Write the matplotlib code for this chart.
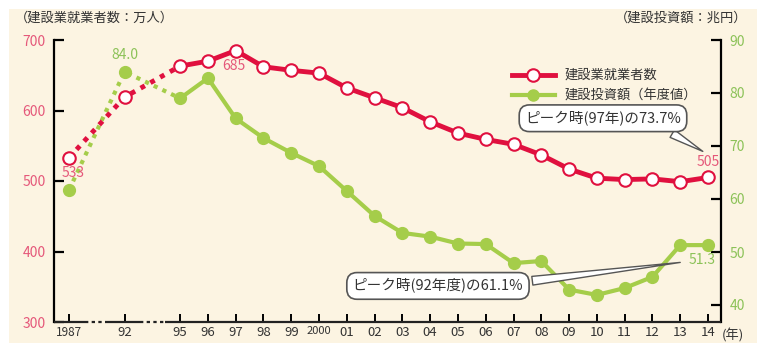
import matplotlib
matplotlib.use("Agg")
import matplotlib.pyplot as plt
from matplotlib.patches import Rectangle

plt.rcParams["font.family"] = ["Noto Sans CJK JP", "DejaVu Sans"]

years = ["1987", "92", "95", "96", "97", "98", "99", "2000", "01", "02", "03", "04",
         "05", "06", "07", "08", "09", "10", "11", "12", "13", "14"]
# 1987 and 92 sit two slots apart, as do 92 and 95 (compressed gap)
xpos = [0, 2] + list(range(4, 24))

workers = [533, 619, 663, 670, 685, 662, 657, 653, 632, 618, 604, 584,
           568, 559, 552, 537, 517, 504, 502, 503, 499, 505]
investment = [61.7, 84.0, 79.0, 82.8, 75.2, 71.5, 68.7, 66.2, 61.5, 56.8, 53.6, 52.9,
              51.6, 51.5, 47.9, 48.3, 42.9, 41.9, 43.2, 45.3, 51.3, 51.3]

RED = "#e0103f"
RED_TXT = "#e5587a"
GREEN = "#a5cd4a"
GREEN_TXT = "#8cc258"
BG = "#fcf4e2"
DARK = "#222222"

fig = plt.figure(figsize=(7.57, 3.43), dpi=100, facecolor="white")
fig.patches.append(Rectangle((9 / 757, 0), 1, 334 / 343, transform=fig.transFigure,
                             facecolor=BG, edgecolor="none", zorder=-10))

ax = fig.add_axes([54 / 757, 21 / 343, 667 / 757, 282 / 343])
ax2 = ax.twinx()
ax.set_zorder(ax2.get_zorder() + 1)
ax.patch.set_visible(False)
ax2.patch.set_visible(False)

x0 = -15 / 27.78
x1 = 23 + 13 / 27.78
ax.set_xlim(x0, x1)
ax.set_ylim(300, 700)
ax2.set_ylim(90 - 282 / 5.3, 90)

# green: construction investment (right axis)
ax2.plot(xpos[:3], investment[:3], color=GREEN, lw=3, ls=(0, (1.0, 1.3)),
         solid_capstyle="butt", zorder=2)
ax2.plot(xpos[2:], investment[2:], color=GREEN, lw=3, zorder=2)
ax2.plot(xpos, investment, ls="none", marker="o", ms=8.5, mfc=GREEN, mec=GREEN, zorder=3)

# red: construction workers (left axis)
ax.plot(xpos[:3], workers[:3], color=RED, lw=3.5, ls=(0, (1.0, 1.3)), zorder=2)
ax.plot(xpos[2:], workers[2:], color=RED, lw=3.5, zorder=2)
ax.plot(xpos, workers, ls="none", marker="o", ms=9, mfc="white", mec=RED, mew=1.5, zorder=3)

# spines and ticks
for a in (ax, ax2):
    a.spines["top"].set_visible(False)
    a.spines["bottom"].set_visible(False)
ax.spines["right"].set_visible(False)
ax2.spines["left"].set_visible(False)
ax.spines["left"].set_linewidth(1.6)
ax2.spines["right"].set_linewidth(1.6)

ax.set_yticks(range(300, 701, 100))
ax.tick_params(axis="y", direction="in", length=7, width=1.6,
               labelcolor=RED_TXT, labelsize=10, pad=6)
ax2.set_yticks(range(40, 91, 10))
ax2.tick_params(axis="y", direction="in", length=7, width=1.6,
                labelcolor=GREEN_TXT, labelsize=10, pad=6)

ax.set_xticks(xpos)
ax.set_xticklabels(years)
ax.tick_params(axis="x", direction="in", length=6, width=1.4, labelcolor="#333333",
               labelsize=9.5, pad=3)
for lbl in ax.get_xticklabels():
    if lbl.get_text() == "2000":
        lbl.set_fontsize(8)
    elif lbl.get_text() == "1987":
        lbl.set_fontsize(8.5)

# bottom axis line, broken by dotted stretches in the compressed gaps
tr = ax.get_xaxis_transform()
px = lambda p: (p - 69) / 27.78
for a, b, style in [(x0, px(85), "-"), (px(85), px(107), (0, (1.5, 1.5))),
                    (px(107), px(140), "-"), (px(140), px(165), (0, (1.5, 1.5))),
                    (px(165), x1, "-")]:
    ax.plot([a, b], [0, 0], transform=tr, color=DARK, lw=1.6, ls=style,
            clip_on=False, solid_capstyle="butt", zorder=5)

# value labels
ax.text(xpos[0] + 0.15, workers[0] - 12, "533", color=RED_TXT, fontsize=10,
        ha="center", va="top")
ax.text(xpos[4] - 0.05, workers[4] - 12, "685", color=RED_TXT, fontsize=10,
        ha="center", va="top")
ax.text(xpos[-1], workers[-1] + 12, "505", color=RED_TXT, fontsize=10,
        ha="center", va="bottom")
ax2.text(xpos[1], investment[1] + 1.8, "84.0", color=GREEN_TXT, fontsize=10,
         ha="center", va="bottom")
ax2.text(xpos[-1] - 0.2, investment[-1] - 1.5, "51.3", color=GREEN_TXT, fontsize=10,
         ha="center", va="top")

# callouts
box = dict(boxstyle="round,pad=0.4,rounding_size=0.7", fc="white", ec="#555555", lw=1.2)
ax.annotate("ピーク時(97年)の73.7%", xy=(22.9, 540), xytext=(19.22, 589),
            xycoords="data", textcoords="data", ha="center", va="center",
            fontsize=10.5, color="#333333", bbox=box, zorder=6,
            arrowprops=dict(arrowstyle="wedge,tail_width=0.6,shrink_factor=0.5",
                            fc="white", ec="#555555", lw=1, relpos=(0.85, 0.05)))
ax.annotate("ピーク時(92年度)の61.1%", xy=(22.1, 48.1), xytext=(13.28, 43.6),
            xycoords=ax2.transData, textcoords=ax2.transData, ha="center", va="center",
            fontsize=10.5, color="#333333", bbox=box, zorder=6,
            arrowprops=dict(arrowstyle="wedge,tail_width=0.6,shrink_factor=0.5",
                            fc="white", ec="#555555", lw=1, relpos=(0.95, 0.7)))

# legend
lx = [px(512), px(555)]
ax.plot(lx, [650, 650], color=RED, lw=3.5, clip_on=False, zorder=4)
ax.plot([px(533)], [650], ls="none", marker="o", ms=9, mfc="white", mec=RED, mew=1.5,
        zorder=4)
ax.text(px(565), 650, "建設業就業者数", fontsize=9.5, color="#333333", va="center")
ax.plot(lx, [621.6, 621.6], color=GREEN, lw=3, zorder=4)
ax.plot([px(533)], [621.6], ls="none", marker="o", ms=8, mfc=GREEN, mec=GREEN, zorder=4)
ax.text(px(565), 621.6, "建設投資額（年度値）", fontsize=9.5, color="#333333", va="center")

# axis titles
fig.text(15 / 757, 1 - 18 / 343, "（建設業就業者数：万人）", fontsize=9.5, color="#333333",
         ha="left", va="center")
fig.text(747 / 757, 1 - 18 / 343, "（建設投資額：兆円）", fontsize=9.5, color="#333333",
         ha="right", va="center")
fig.text(722 / 757, 1 - 335 / 343, "(年)", fontsize=9.5, color="#333333",
         ha="left", va="center")

fig.savefig("out.png", dpi=100, facecolor=fig.get_facecolor())
